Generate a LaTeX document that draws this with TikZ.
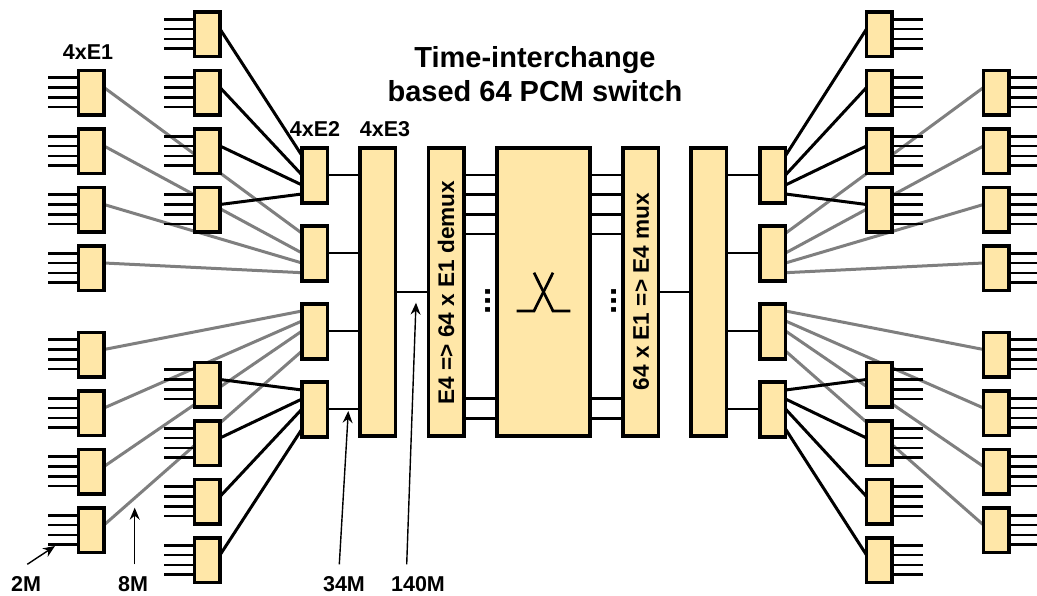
\documentclass[tikz,border=0pt]{standalone}
\usepackage{fontspec}
\setmainfont{Liberation Sans}
\usetikzlibrary{calc,backgrounds,arrows.meta}
\definecolor{boxfill}{HTML}{FFE7A8}
\definecolor{graylink}{HTML}{7F7F7F}
\tikzset{
  unit/.style={draw=black,fill=boxfill,line width=3.2pt,outer sep=0pt,inner sep=0pt,anchor=north west},
  small/.style={unit,minimum width=25.5pt,minimum height=44.5pt},
  mid/.style={unit,minimum width=25.5pt,minimum height=55pt},
  tall/.style={unit,minimum width=35.5pt,minimum height=288pt},
  wire/.style={draw=black,line width=2.7pt},
  graywire/.style={draw=graylink,line width=3pt},
  blackwire/.style={draw=black,line width=3pt},
  thinarrow/.style={draw=black,line width=1.4pt,-{Stealth[length=12pt,width=10pt,inset=4pt]}},
  lab/.style={font=\bfseries\fontsize{21.5}{24}\selectfont,inner sep=0pt},
  vlab/.style={font=\bfseries\fontsize{22.6}{24}\selectfont,inner sep=0pt,rotate=90},
  titlelab/.style={font=\bfseries\fontsize{29}{34}\selectfont,inner sep=0pt,align=center},
  dotslab/.style={font=\bfseries\fontsize{33}{33}\selectfont,inner sep=0pt,rotate=90},
}
\newcommand{\glink}[4]{\begin{pgfonlayer}{background}\draw[graywire] ($(#1)+(0,#2)$) -- ($(#3)+(0,#4)$);\end{pgfonlayer}}
\newcommand{\blink}[4]{\draw[blackwire] ($(#1)+(0,#2)$) -- ($(#3)+(0,#4)$);}
\begin{document}
\begin{tikzpicture}[x=1pt,y=-1pt]
\useasboundingbox (0,0) rectangle (1037,596);
% left outer and inner columns
\foreach \n/\y in {1/70.5,2/129,3/187.5,4/246,5/332.5,6/391,7/449.5,8/508}{
  \node[small] (a\n) at (78.5,\y) {};
  \node[small] (ra\n) at (983.5,\y) {};
}
\foreach \n/\y in {1/12,2/70.5,3/129,4/187.5,5/362.5,6/421,7/479.5,8/538}{
  \node[small] (b\n) at (194.5,\y) {};
  \node[small] (rb\n) at (866.5,\y) {};
}
\foreach \n/\y in {1/148,2/226,3/304,4/382}{
  \node[mid] (c\n) at (302,\y) {};
  \node[mid] (rc\n) at (760,\y) {};
}
\node[tall] (d) at (360,148) {};
\node[tall] (h) at (691,148) {};
\node[tall] (e) at (428.5,148) {};
\node[tall] (g) at (623,148) {};
\node[unit,minimum width=93pt,minimum height=288pt] (f) at (497,148) {};
% stubs
\foreach \o in {7.3,17,27,36.5}{
  \foreach \n in {a1,a2,a3,a4,a5,a6,a7,a8,b1,b2,b3,b4,b5,b6,b7,b8}{
    \draw[wire] ($(\n.north west)+(0,\o)$) -- ++(-31,0);
  }
  \foreach \n in {rb1,rb2,rb3,rb4,rb5,rb6,rb7,rb8}{
    \draw[wire] ($(\n.north east)+(0,\o)$) -- ++(31,0);
  }
  \foreach \n in {ra1,ra2,ra3,ra4,ra5,ra6,ra7,ra8}{
    \draw[wire] ($(\n.north east)+(0,\o)$) -- ++(28,0);
  }
}
% gray links, left
\glink{a1.north east}{17}{c2.north west}{7.3}
\glink{a2.north east}{17}{c2.north west}{27}
\glink{a3.north east}{17}{c2.north west}{37}
\glink{a4.north east}{17}{c2.north west}{46.7}
\glink{a5.north east}{17}{c3.north west}{7}
\glink{a6.north east}{17}{c3.north west}{17}
\glink{a7.north east}{17}{c3.north west}{27}
\glink{a8.north east}{17}{c3.north west}{47}
% gray links, right
\glink{ra1.north west}{17}{rc2.north east}{7.3}
\glink{ra2.north west}{17}{rc2.north east}{27}
\glink{ra3.north west}{17}{rc2.north east}{37}
\glink{ra4.north west}{17}{rc2.north east}{46.7}
\glink{ra5.north west}{17}{rc3.north east}{7}
\glink{ra6.north west}{17}{rc3.north east}{17}
\glink{ra7.north west}{17}{rc3.north east}{27}
\glink{ra8.north west}{17}{rc3.north east}{47}
% black links
\blink{b1.north east}{17}{c1.north west}{7.7}
\blink{b2.north east}{17}{c1.north west}{27}
\blink{b3.north east}{17}{c1.north west}{37}
\blink{b4.north east}{17}{c1.north west}{46}
\blink{b5.north east}{17}{c4.north west}{8}
\blink{b6.north east}{17}{c4.north west}{17}
\blink{b7.north east}{17}{c4.north west}{27}
\blink{b8.north east}{17}{c4.north west}{47}
\blink{rb1.north west}{17}{rc1.north east}{7.7}
\blink{rb2.north west}{17}{rc1.north east}{27}
\blink{rb3.north west}{17}{rc1.north east}{37}
\blink{rb4.north west}{17}{rc1.north east}{46}
\blink{rb5.north west}{17}{rc4.north east}{8}
\blink{rb6.north west}{17}{rc4.north east}{17}
\blink{rb7.north west}{17}{rc4.north east}{27}
\blink{rb8.north west}{17}{rc4.north east}{47}
% c to d / h
\foreach \n/\o in {1/27,2/27,3/27,4/27}{
  \draw[wire] ($(c\n.north east)+(0,\o)$) -- ($(c\n.north east)+(32.5,\o)$);
  \draw[wire] ($(rc\n.north west)+(0,\o)$) -- ($(rc\n.north west)+(-33.5,\o)$);
}
% d-e and g-h
\draw[wire] (d.east) -- (e.west);
\draw[wire] (g.east) -- (h.west);
% e-f and f-g
\foreach \o in {27,46.7,66.3,86,250.7,270.3}{
  \draw[wire] ($(e.north east)+(0,\o)$) -- ($(f.north west)+(0,\o)$);
  \draw[wire] ($(f.north east)+(0,\o)$) -- ($(g.north west)+(0,\o)$);
}
% switch symbol
\coordinate (sw) at (f.center);
\draw[line width=2.7pt,line join=miter] ($(sw)+(-26.8,19)$) -- ($(sw)+(-9.5,19)$) -- ($(sw)+(9.5,-19.3)$);
\draw[line width=2.7pt,line join=miter] ($(sw)+(-9.5,-19.3)$) -- ($(sw)+(9.5,19)$) -- ($(sw)+(26.8,19)$);
% labels
\node[vlab] (elab) at (446,292.5) {E4 => 64 x E1 demux};
\node[vlab] (glab) at (641,291.7) {64 x E1 => E4 mux};
\node[dotslab] (dl) at (488.5,301) {...};
\node[dotslab] (dr) at (614.5,301) {...};
\node[lab] (l1) at (88,52) {4xE1};
\node[lab] (l2) at (315,129) {4xE2};
\node[lab] (l3) at (385,129) {4xE3};
\node[titlelab] (title) at (535,74) {Time-interchange\\based 64 PCM switch};
\node[lab] (m2) at (26,584) {2M};
\node[lab] (m8) at (133,584) {8M};
\node[lab] (m34) at (344,584) {34M};
\node[lab] (m140) at (418,584) {140M};
% arrows
\coordinate (f2) at (27.3,564.3);
\coordinate (t2) at (55,546);
\coordinate (f8) at (134.7,564.3);
\coordinate (t8) at (134.7,507.7);
\coordinate (f34) at (339.3,564.3);
\coordinate (t34) at (348.3,411);
\coordinate (f140) at (406.7,564.3);
\coordinate (t140) at (416,302.7);
\draw[thinarrow] (f2) -- (t2);
\draw[thinarrow] (f8) -- (t8);
\draw[thinarrow] (f34) -- (t34);
\draw[thinarrow] (f140) -- (t140);
\end{tikzpicture}
\end{document}
